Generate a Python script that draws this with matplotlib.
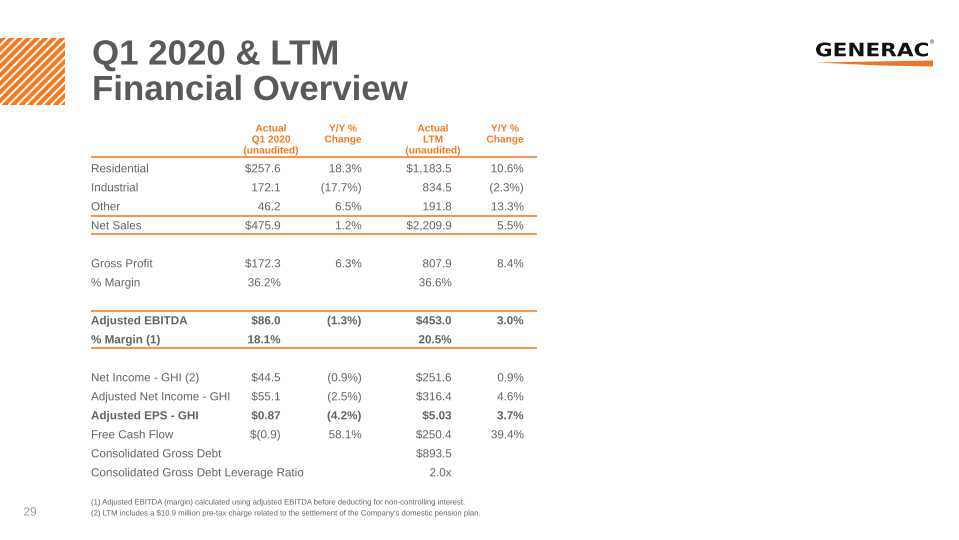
import matplotlib
matplotlib.use("Agg")
import matplotlib.pyplot as plt
import matplotlib.patheffects as pe
from matplotlib.patches import Rectangle, Polygon, PathPatch
from matplotlib.textpath import TextPath
from matplotlib.font_manager import FontProperties
from matplotlib.transforms import Affine2D

plt.rcParams['font.family'] = ['Liberation Sans', 'DejaVu Sans']

ORANGE = '#F47920'
GRAY = '#636363'
DARK = '#58595B'
PE = [pe.Normal()]

title_lines = ["Q1 2020 & LTM", "Financial Overview"]
headers = [["Actual", "Q1 2020", "(unaudited)"], ["Y/Y %", "Change"],
           ["Actual", "LTM", "(unaudited)"], ["Y/Y %", "Change"]]

row_labels = ["Residential", "Industrial", "Other", "Net Sales", "",
              "Gross Profit", "% Margin", "",
              "Adjusted EBITDA", "% Margin (1)", "",
              "Net Income - GHI (2)", "Adjusted Net Income - GHI", "Adjusted EPS - GHI",
              "Free Cash Flow", "Consolidated Gross Debt",
              "Consolidated Gross Debt Leverage Ratio"]
q1_actual = ["$257.6", "172.1", "46.2", "$475.9", "",
             "$172.3", "36.2%", "",
             "$86.0", "18.1%", "",
             "$44.5", "$55.1", "$0.87", "$(0.9)", "", ""]
q1_yoy = ["18.3%", "(17.7%)", "6.5%", "1.2%", "",
          "6.3%", "", "",
          "(1.3%)", "", "",
          "(0.9%)", "(2.5%)", "(4.2%)", "58.1%", "", ""]
ltm_actual = ["$1,183.5", "834.5", "191.8", "$2,209.9", "",
              "807.9", "36.6%", "",
              "$453.0", "20.5%", "",
              "$251.6", "$316.4", "$5.03", "$250.4", "$893.5", "2.0x"]
ltm_yoy = ["10.6%", "(2.3%)", "13.3%", "5.5%", "",
           "8.4%", "", "",
           "3.0%", "", "",
           "0.9%", "4.6%", "3.7%", "39.4%", "", ""]
bold_rows = ["Adjusted EBITDA", "% Margin (1)", "Adjusted EPS - GHI"]

footnotes = ["(1) Adjusted EBITDA (margin) calculated using adjusted EBITDA before deducting for non-controlling interest.",
             "(2) LTM includes a $10.9 million pre-tax charge related to the settlement of the Company's domestic pension plan."]
page_number = "29"
logo_text = "GENERAC"

fig = plt.figure(figsize=(9.59, 5.40), dpi=100)
ax = fig.add_axes([0, 0, 1, 1])
ax.set_xlim(0, 959)
ax.set_ylim(540, 0)
ax.axis('off')

# hatched block
rect = Rectangle((0, 37.5), 65, 67.5, facecolor=ORANGE, edgecolor='none')
ax.add_patch(rect)
for k in range(-12, 20):
    x0 = k * 8.5
    ln, = ax.plot([x0, x0 + 80], [105, 25], color='white', lw=1.4, solid_capstyle='butt')
    ln.set_clip_path(rect)

# title
for j, t in enumerate(title_lines):
    ax.text(92, 64.5 + j * 35.5, t, fontsize=25.1, fontweight='bold', color=DARK,
            va='baseline', ha='left', path_effects=PE)

# logo (text path stretched to fit the logo box)
tp = TextPath((0, 0), logo_text, size=10, prop=FontProperties(family='DejaVu Sans', weight='bold'))
ext = tp.get_extents()
bx0, bx1, by_top, by_bot = 816, 928, 42.5, 56.5
sx = (bx1 - bx0) / ext.width
sy = (by_bot - by_top) / ext.height
tr = Affine2D().translate(-ext.x0, -ext.y0).scale(sx, -sy).translate(bx0, by_bot)
ax.add_patch(PathPatch(tr.transform_path(tp), facecolor='#111111', edgecolor='none'))
ax.text(932, 42.5, "®", fontsize=4, color='#111111', va='center', ha='center')
ax.add_patch(Polygon([[816, 62.5], [933, 60.5], [933, 66.5], [880, 65.5]], closed=True,
                     facecolor='#EE7623', edgecolor='none'))

# headers
hdr_x = [271, 343, 433, 505]
for hx, lines in zip(hdr_x, headers):
    for j, t in enumerate(lines):
        ax.text(hx, 131.5 + j * 11, t, fontsize=7.3, fontweight='bold', color=ORANGE,
                va='baseline', ha='center', path_effects=PE)

# table
FS = 8.4
col_right = [280.5, 361.5, 451.5, 523.5]
cols = [q1_actual, q1_yoy, ltm_actual, ltm_yoy]
y0, dy = 172.3, 19
for i, lab in enumerate(row_labels):
    y = y0 + i * dy
    w = 'bold' if lab in bold_rows else 'normal'
    if lab:
        ax.text(91, y, lab, fontsize=FS, color=GRAY, va='baseline', ha='left', fontweight=w,
                path_effects=PE)
    for cx, col in zip(col_right, cols):
        if col[i]:
            ax.text(cx, y, col[i], fontsize=FS, color=GRAY, va='baseline', ha='right',
                    fontweight=w, path_effects=PE)

for ly in [157, 216, 233.5, 311, 347.5]:
    ax.plot([91, 537], [ly, ly], color='#F58A3C', lw=1.3, solid_capstyle='butt')

# footnotes
ax.text(91, 504.5, footnotes[0], fontsize=5.57, color=GRAY, va='baseline', ha='left',
        path_effects=PE)
ax.text(91, 515.5, footnotes[1], fontsize=5.57, color=GRAY, va='baseline', ha='left',
        path_effects=PE)
ax.text(30, 515.5, page_number, fontsize=8.5, color='#9A9A9A', va='baseline', ha='center',
        path_effects=PE)

fig.savefig("out.png", dpi=100)
